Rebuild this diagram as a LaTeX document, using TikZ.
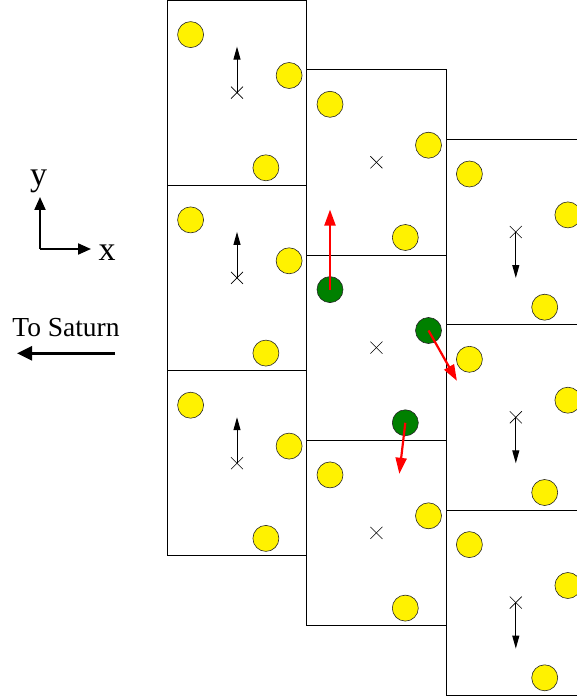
\documentclass[tikz,border=0pt]{standalone}
\usepackage{fontspec}
\setmainfont{Liberation Serif}
\usetikzlibrary{arrows.meta,calc}
\begin{document}
\begin{tikzpicture}[x=1pt,y=-1pt,
  cell/.style={draw=black,line width=0.9pt},
  moon/.style={circle,draw=black!85,line width=0.6pt,fill=yellow,minimum size=26pt,inner sep=0pt},
  gmoon/.style={moon,fill=green!50!black},
  crossmark/.style={line width=0.6pt},
  blkarrow/.style={line width=1pt,-{Triangle[length=13pt,width=7pt]}},
  redarrow/.style={red,line width=2.2pt,-{Triangle[length=16pt,width=11pt]}},
  axarrow/.style={line width=2pt,-{Triangle[length=13pt,width=11pt]}},
  satarrow/.style={line width=2.5pt,-{Triangle[length=15pt,width=14pt]}},
  biglabel/.style={font=\fontsize{34}{34}\selectfont,inner sep=0pt,anchor=base},
  satlabel/.style={font=\fontsize{27.5}{28}\selectfont,inner sep=0pt,anchor=base},
]
\useasboundingbox (0,0) rectangle (577,700);
\begin{scope}
\clip (0,0) rectangle (577,700);
\foreach \i in {0,1,2}{
 \foreach \j in {0,1,2}{
   \pgfmathsetmacro\L{167.3+139.4*\i}
   \pgfmathsetmacro\T{69.7*\i+185.3*\j}
   \draw[cell] (\L,\T) rectangle ++(139.4,185.3);
   \ifnum\i\j=11 \def\mst{gmoon}\else\def\mst{moon}\fi
   \node[\mst] (m\i\j a) at (\L+23.3,\T+34.6) {};
   \node[\mst] (m\i\j b) at (\L+121.8,\T+75.5) {};
   \node[\mst] (m\i\j c) at (\L+98.6,\T+167.8) {};
   \coordinate (x\i\j) at (\L+69.7,\T+92.6);
   \draw[crossmark] ($(x\i\j)+(-6,-6)$) -- ($(x\i\j)+(6,6)$);
   \draw[crossmark] ($(x\i\j)+(-6,6)$) -- ($(x\i\j)+(6,-6)$);
   \ifnum\i=0 \draw[blkarrow] (x\i\j) -- ++(0,-46); \fi
   \ifnum\i=2 \draw[blkarrow] (x\i\j) -- ++(0,46); \fi
 }}
\draw[redarrow] (m11a.center) -- ++(0,-80);
\draw[redarrow] (m11b.center) -- ++(28.4,50.3);
\draw[redarrow] (m11c.center) -- ++(-6,51);
\end{scope}
% axes
\coordinate (o) at (40,249);
\coordinate (ytip) at (40,197);
\coordinate (xtip) at (91,249);
\draw[axarrow] (o) -- (ytip);
\draw[axarrow] (o) -- (xtip);
\node[biglabel] (ylab) at (38.5,186) {y};
\node[biglabel] (xlab) at (107,261) {x};
\node[satlabel] (sat) at (66,336) {To Saturn};
\coordinate (s0) at (115,353.3);
\coordinate (s1) at (17,353.3);
\draw[satarrow] (s0) -- (s1);
\end{tikzpicture}
\end{document}
